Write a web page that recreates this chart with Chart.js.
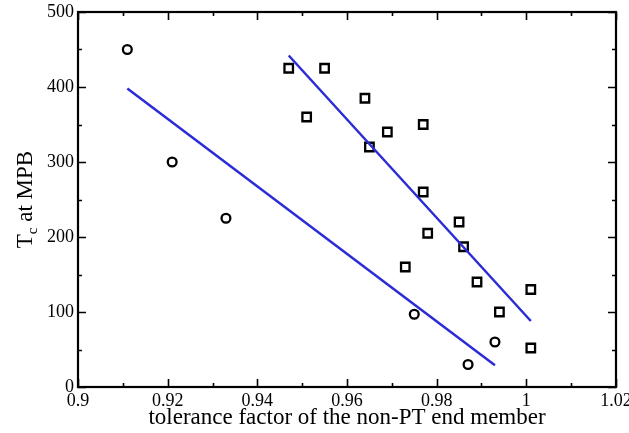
<!DOCTYPE html>
<html>
<head>
<meta charset="utf-8">
<script src="https://cdn.jsdelivr.net/npm/chart.js@4/dist/chart.umd.min.js"></script>
<style>
  body { margin: 0; background: #fff; }
  #wrap { width: 629px; height: 433px; }
</style>
</head>
<body>
<div id="wrap"><canvas id="tcChart" width="629" height="433"></canvas></div>
<script>
// Tolerance factor of the non-PT end member (circles)
const circleTol = [0.911, 0.921, 0.933, 0.975, 0.987, 0.993];
const circleTc  = [450, 300, 225, 97, 30, 60];

// Tolerance factor of the non-PT end member (squares)
const squareTol = [0.947, 0.951, 0.955, 0.964, 0.965, 0.969, 0.977, 0.977, 0.985, 0.978, 0.986, 0.973, 0.989, 1.001, 0.994, 1.001];
const squareTc  = [425, 360, 425, 385, 320, 340, 350, 260, 220, 205, 187, 160, 140, 130, 100, 52];

// Straight-line fits, given by their two end points
const circleFitTol = [0.911, 0.993];
const circleFitTc  = [398, 29];
const squareFitTol = [0.947, 1.001];
const squareFitTc  = [442, 88];

const xMin = 0.9, xMax = 1.02, xStep = 0.02;
const yMin = 0, yMax = 500, yStep = 100;

const serif = "'Liberation Serif', 'DejaVu Serif', 'Times New Roman', serif";

function toPoints(xs, ys) {
    return xs.map((x, i) => ({ x: x, y: ys[i] }));
}

// Box frame with inward major/minor ticks on all four sides, plus the y title with subscript
const framePlugin = {
    id: 'frame',
    afterDraw(chart) {
        const ctx = chart.ctx;
        const area = chart.chartArea;
        const xs = chart.scales.x;
        const ys = chart.scales.y;
        ctx.save();
        ctx.strokeStyle = '#000';
        ctx.lineWidth = 1.6;
        ctx.beginPath();
        // x ticks: major every 0.02, minor halfway
        for (let i = 0; i <= 12; i++) {
            const v = xMin + i * 0.01;
            const px = Math.round(xs.getPixelForValue(v)) + 0.5;
            const len = i % 2 === 0 ? 8 : 4;
            ctx.moveTo(px, area.bottom);
            ctx.lineTo(px, area.bottom - len);
            ctx.moveTo(px, area.top);
            ctx.lineTo(px, area.top + len);
        }
        // y ticks: major every 100, minor every 50
        for (let i = 0; i <= 10; i++) {
            const v = yMin + i * 50;
            const py = Math.round(ys.getPixelForValue(v)) + 0.5;
            const len = i % 2 === 0 ? 8 : 4;
            ctx.moveTo(area.left, py);
            ctx.lineTo(area.left + len, py);
            ctx.moveTo(area.right, py);
            ctx.lineTo(area.right - len, py);
        }
        ctx.stroke();

        ctx.lineWidth = 2.2;
        ctx.strokeRect(area.left, area.top, area.right - area.left, area.bottom - area.top);

        // y axis title: T with subscript c, then " at MPB"
        const big = '23px ' + serif;
        const small = '15px ' + serif;
        ctx.font = big;
        const wT = ctx.measureText('T').width;
        const wRest = ctx.measureText(' at MPB').width;
        ctx.font = small;
        const wc = ctx.measureText('c').width;
        const total = wT + wc + wRest;
        ctx.translate(32, (area.top + area.bottom) / 2);
        ctx.rotate(-Math.PI / 2);
        ctx.fillStyle = '#000';
        ctx.textBaseline = 'alphabetic';
        ctx.textAlign = 'left';
        let x0 = -total / 2;
        ctx.font = big;
        ctx.fillText('T', x0, 0);
        ctx.font = small;
        ctx.fillText('c', x0 + wT, 5);
        ctx.font = big;
        ctx.fillText(' at MPB', x0 + wT + wc, 0);
        ctx.restore();
    }
};

const ctx = document.getElementById('tcChart').getContext('2d');
const tcChart = new Chart(ctx, {
    type: 'scatter',
    data: {
        datasets: [
            {
                type: 'line',
                data: toPoints(circleFitTol, circleFitTc),
                borderColor: '#2b2bd8',
                borderWidth: 2.5,
                pointRadius: 0,
                fill: false
            },
            {
                type: 'line',
                data: toPoints(squareFitTol, squareFitTc),
                borderColor: '#2b2bd8',
                borderWidth: 2.5,
                pointRadius: 0,
                fill: false
            },
            {
                data: toPoints(circleTol, circleTc),
                pointStyle: 'circle',
                pointRadius: 4.4,
                borderColor: '#000',
                borderWidth: 2.3,
                backgroundColor: 'rgba(0,0,0,0)'
            },
            {
                data: toPoints(squareTol, squareTc),
                pointStyle: 'rect',
                pointRadius: 6,
                borderColor: '#000',
                borderWidth: 2.3,
                backgroundColor: 'rgba(0,0,0,0)'
            }
        ]
    },
    options: {
        responsive: false,
        animation: false,
        events: [],
        layout: {
            padding: { top: 12, right: 13, left: 0, bottom: 0 }
        },
        plugins: {
            legend: { display: false },
            tooltip: { enabled: false }
        },
        scales: {
            x: {
                type: 'linear',
                min: xMin,
                max: xMax,
                grid: { display: false, drawTicks: false },
                border: { display: false },
                ticks: {
                    stepSize: xStep,
                    padding: 3,
                    color: '#000',
                    maxRotation: 0,
                    autoSkip: false,
                    font: { family: serif, size: 18 },
                    callback: v => String(+v.toFixed(2))
                },
                title: {
                    display: true,
                    text: 'tolerance factor of the non-PT end member',
                    color: '#000',
                    font: { family: serif, size: 23 },
                    padding: { top: 0, bottom: 1 }
                },
                afterFit(s) {
                    s.height = 46;
                    s.paddingLeft = 0;
                    s.paddingRight = 0;
                }
            },
            y: {
                type: 'linear',
                min: yMin,
                max: yMax,
                grid: { display: false, drawTicks: false },
                border: { display: false },
                ticks: {
                    stepSize: yStep,
                    padding: 4,
                    color: '#000',
                    font: { family: serif, size: 18 }
                },
                afterFit(s) {
                    s.width = 78;
                    s.paddingTop = 0;
                    s.paddingBottom = 0;
                }
            }
        }
    },
    plugins: [framePlugin]
});
</script>
</body>
</html>
